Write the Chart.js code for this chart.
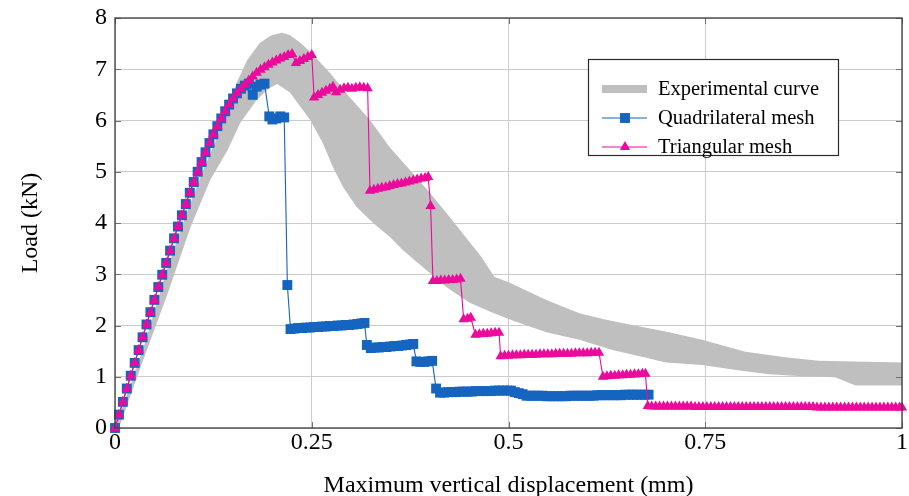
<!DOCTYPE html>
<html>
<head>
<meta charset="utf-8">
<title>Load vs displacement</title>
<script src="https://cdn.jsdelivr.net/npm/chart.js@4.4.1/dist/chart.umd.min.js"></script>
<style>
  html, body { margin: 0; padding: 0; background: #fff; }
  #chart-carga { display: block; }
</style>
</head>
<body>
<canvas id="chart-carga" width="909" height="496"></canvas>
<script>
// ---- data ----
const xTicks = [0, 0.25, 0.5, 0.75, 1];
const xTickLabels = ['0', '0.25', '0.5', '0.75', '1'];
const yTicks = [0, 1, 2, 3, 4, 5, 6, 7, 8];
const yTickLabels = ['0', '1', '2', '3', '4', '5', '6', '7', '8'];

// experimental band, upper and lower edge
const bandUpperX = [0, 0.02, 0.04, 0.064, 0.09, 0.11, 0.125, 0.138, 0.155, 0.168, 0.184, 0.198, 0.212, 0.222,
  0.235, 0.248, 0.273, 0.298, 0.324, 0.349, 0.375, 0.40, 0.425, 0.45, 0.465, 0.482, 0.501, 0.548, 0.59,
  0.624, 0.657, 0.704, 0.746, 0.801, 0.852, 0.894, 1.0];
const bandUpperY = [0, 0.85, 1.75, 3.0, 4.15, 4.95, 5.5, 6.0, 6.75, 7.18, 7.51, 7.66, 7.71, 7.67,
  7.52, 7.34, 6.93, 6.46, 6.01, 5.48, 5.03, 4.59, 4.12, 3.64, 3.35, 2.95, 2.84, 2.50, 2.24,
  2.11, 2.01, 1.87, 1.72, 1.49, 1.38, 1.31, 1.28];
const bandLowerX = [0.005, 0.036, 0.067, 0.096, 0.121, 0.143, 0.159, 0.18, 0.195, 0.206, 0.222, 0.248, 0.264,
  0.277, 0.29, 0.307, 0.328, 0.349, 0.366, 0.391, 0.421, 0.45, 0.48, 0.505, 0.548, 0.59, 0.632, 0.675,
  0.70, 0.746, 0.789, 0.831, 0.873, 0.915, 0.941, 1.0];
const bandLowerY = [0, 1.33, 2.63, 3.92, 4.84, 5.42, 5.95, 6.4, 6.62, 6.71, 6.55, 6.01, 5.56,
  5.09, 4.7, 4.31, 4.0, 3.73, 3.47, 3.14, 2.75, 2.45, 2.25, 2.1, 1.87, 1.72, 1.52, 1.37,
  1.28, 1.23, 1.13, 1.05, 1.01, 0.99, 0.83, 0.83];

// quadrilateral mesh
const quadX = [
  0, 0.005, 0.010, 0.015, 0.020, 0.025, 0.030, 0.035, 0.040, 0.045,
  0.050, 0.055, 0.060, 0.065, 0.070, 0.075, 0.080, 0.085, 0.090, 0.095,
  0.100, 0.105, 0.110, 0.115, 0.120, 0.125, 0.130, 0.135, 0.140, 0.145,
  0.150, 0.155, 0.160, 0.165, 0.170, 0.175, 0.180, 0.185, 0.190,
  0.196, 0.200, 0.205, 0.210, 0.215,
  0.219,
  0.223, 0.228, 0.233, 0.238, 0.243, 0.248, 0.253, 0.258, 0.263, 0.268,
  0.273, 0.278, 0.283, 0.288, 0.293, 0.298, 0.303, 0.308, 0.313, 0.317,
  0.320, 0.325, 0.330, 0.335, 0.340, 0.345, 0.350, 0.355, 0.360, 0.365, 0.370, 0.375, 0.379,
  0.383, 0.388, 0.393, 0.398, 0.403,
  0.408,
  0.413, 0.418, 0.423, 0.428, 0.433, 0.438, 0.443, 0.448, 0.453, 0.458,
  0.463, 0.468, 0.473, 0.478, 0.483, 0.488, 0.493, 0.498, 0.503,
  0.508, 0.513, 0.518,
  0.523, 0.528, 0.533, 0.538, 0.543, 0.548, 0.553, 0.558, 0.563, 0.568,
  0.573, 0.578, 0.583, 0.588, 0.593, 0.598, 0.603, 0.608, 0.613, 0.618,
  0.623, 0.628, 0.633, 0.638, 0.643, 0.648, 0.653, 0.658, 0.663, 0.668, 0.673, 0.678
];
const quadY = [
  0, 0.26, 0.51, 0.77, 1.02, 1.27, 1.52, 1.77, 2.02, 2.26,
  2.50, 2.75, 2.99, 3.22, 3.46, 3.70, 3.93, 4.15, 4.37, 4.59,
  4.80, 5.00, 5.19, 5.38, 5.56, 5.73, 5.89, 6.04, 6.18, 6.31,
  6.43, 6.53, 6.62, 6.68, 6.72, 6.50, 6.66, 6.70, 6.72,
  6.08, 6.02, 6.04, 6.08, 6.06,
  2.79,
  1.93, 1.94, 1.95, 1.95, 1.96, 1.96, 1.97, 1.97, 1.98, 1.98,
  1.99, 1.99, 2.00, 2.00, 2.01, 2.01, 2.02, 2.03, 2.04, 2.05,
  1.62, 1.56, 1.57, 1.57, 1.58, 1.58, 1.59, 1.60, 1.60, 1.61, 1.62, 1.63, 1.64,
  1.30, 1.29, 1.29, 1.30, 1.31,
  0.77,
  0.69, 0.69, 0.70, 0.70, 0.70, 0.71, 0.71, 0.71, 0.71, 0.72,
  0.72, 0.72, 0.72, 0.72, 0.73, 0.73, 0.73, 0.73, 0.73,
  0.70, 0.68, 0.66,
  0.63, 0.63, 0.63, 0.63, 0.63, 0.62, 0.62, 0.62, 0.62, 0.62,
  0.62, 0.63, 0.63, 0.63, 0.63, 0.63, 0.63, 0.63, 0.64, 0.64,
  0.64, 0.64, 0.64, 0.64, 0.64, 0.65, 0.65, 0.65, 0.65, 0.65, 0.65, 0.65
];

// triangular mesh
const triX = [
  0, 0.005, 0.010, 0.015, 0.020, 0.025, 0.030, 0.035, 0.040, 0.045,
  0.050, 0.055, 0.060, 0.065, 0.070, 0.075, 0.080, 0.085, 0.090, 0.095,
  0.100, 0.105, 0.110, 0.115, 0.120, 0.125, 0.130, 0.135, 0.140, 0.145,
  0.150, 0.155,
  0.160, 0.165, 0.170, 0.175, 0.180, 0.185, 0.190, 0.195, 0.200, 0.205, 0.210, 0.215, 0.220, 0.225,
  0.230, 0.235, 0.240, 0.245, 0.250,
  0.253,
  0.258, 0.263, 0.268, 0.273, 0.277, 0.281, 0.286, 0.291, 0.296, 0.301, 0.306, 0.311, 0.316, 0.321,
  0.324,
  0.329, 0.334, 0.339, 0.344, 0.349, 0.354, 0.359, 0.364, 0.369, 0.374, 0.379, 0.384, 0.389, 0.394, 0.398,
  0.401,
  0.404, 0.409, 0.414, 0.419, 0.424, 0.429, 0.434, 0.439,
  0.443, 0.448, 0.452,
  0.458, 0.463, 0.468, 0.473, 0.478, 0.483, 0.488,
  0.490,
  0.495, 0.500, 0.505, 0.510, 0.515, 0.520, 0.525, 0.530, 0.535, 0.540,
  0.545, 0.550, 0.555, 0.560, 0.565, 0.570, 0.575, 0.580, 0.585, 0.590,
  0.595, 0.600, 0.605, 0.610, 0.615,
  0.620,
  0.625, 0.630, 0.635, 0.640, 0.645, 0.650, 0.655, 0.660, 0.665, 0.670, 0.674,
  0.677,
  0.682, 0.687, 0.692, 0.697, 0.702, 0.707, 0.712, 0.717, 0.722, 0.727,
  0.732, 0.737, 0.742, 0.747, 0.752, 0.757, 0.762, 0.767, 0.772, 0.777,
  0.782, 0.787, 0.792, 0.797, 0.802, 0.807, 0.812, 0.817, 0.822, 0.827,
  0.832, 0.837, 0.842, 0.847, 0.852, 0.857, 0.862, 0.867, 0.872, 0.877,
  0.882, 0.887, 0.892, 0.897, 0.902, 0.907, 0.912, 0.917, 0.922, 0.927,
  0.932, 0.937, 0.942, 0.947, 0.952, 0.957, 0.962, 0.967, 0.972, 0.977,
  0.982, 0.987, 0.992, 0.997, 1.0
];
const triY = [
  0, 0.26, 0.51, 0.77, 1.02, 1.27, 1.52, 1.77, 2.02, 2.26,
  2.50, 2.75, 2.99, 3.22, 3.46, 3.70, 3.93, 4.15, 4.37, 4.59,
  4.80, 5.00, 5.19, 5.38, 5.56, 5.73, 5.89, 6.04, 6.18, 6.31,
  6.43, 6.53,
  6.62, 6.70, 6.78, 6.86, 6.93, 6.99, 7.04, 7.09, 7.13, 7.17, 7.21, 7.24, 7.28, 7.30,
  7.12, 7.16, 7.20, 7.24, 7.28,
  6.45,
  6.50, 6.54, 6.58, 6.62, 6.66, 6.55, 6.60, 6.63, 6.64, 6.62, 6.64, 6.65, 6.64, 6.63,
  4.63,
  4.65, 4.67, 4.69, 4.70, 4.72, 4.74, 4.76, 4.77, 4.79, 4.81, 4.83, 4.85, 4.87, 4.88, 4.90,
  4.33,
  2.87, 2.87, 2.88, 2.88, 2.89, 2.89, 2.90, 2.91,
  2.12, 2.13, 2.15,
  1.82, 1.83, 1.84, 1.84, 1.85, 1.86, 1.86,
  1.40,
  1.41, 1.41, 1.42, 1.42, 1.42, 1.43, 1.43, 1.43, 1.43, 1.44,
  1.44, 1.44, 1.44, 1.45, 1.45, 1.45, 1.45, 1.45, 1.46, 1.46,
  1.46, 1.46, 1.47, 1.47, 1.47,
  1.00,
  1.01, 1.02, 1.02, 1.03, 1.03, 1.04, 1.04, 1.05, 1.05, 1.06, 1.06,
  0.43,
  0.42, 0.42, 0.42, 0.42, 0.42, 0.42, 0.42, 0.42, 0.42, 0.42,
  0.42, 0.41, 0.41, 0.41, 0.41, 0.41, 0.41, 0.41, 0.41, 0.41,
  0.41, 0.41, 0.41, 0.41, 0.41, 0.41, 0.41, 0.41, 0.41, 0.41,
  0.41, 0.41, 0.41, 0.41, 0.41, 0.41, 0.41, 0.41, 0.41, 0.41,
  0.41, 0.41, 0.40, 0.40, 0.40, 0.40, 0.40, 0.40, 0.40, 0.40,
  0.40, 0.40, 0.40, 0.40, 0.40, 0.40, 0.40, 0.40, 0.40, 0.40,
  0.40, 0.40, 0.40, 0.40, 0.40
];

const xTitle = 'Maximum vertical displacement (mm)';
const yTitle = 'Load (kN)';
const seriesNames = ['Experimental curve', 'Quadrilateral mesh', 'Triangular mesh'];

// ---- styles ----
const serif = '"Liberation Serif", "Times New Roman", serif';
const cinza = '#bfbfbf';
const azul = '#1565c0';
const rosa = '#ec0a9c';

const toPoints = (xs, ys) => xs.map((x, i) => ({ x: x, y: ys[i] }));

// closed outline of the band: upper edge forward, lower edge backwards
const bandOutline = toPoints(bandUpperX, bandUpperY)
  .concat(toPoints(bandLowerX, bandLowerY).reverse());

// pgfplots style box: frame + inward ticks on all four sides
const moldura = {
  id: 'moldura',
  afterDatasetsDraw(chart) {
    const { ctx, chartArea: a, scales: { x, y } } = chart;
    ctx.save();
    ctx.strokeStyle = '#707070';
    ctx.lineWidth = 1;
    ctx.beginPath();
    xTicks.forEach(v => {
      const px = Math.round(x.getPixelForValue(v)) + 0.5;
      ctx.moveTo(px, a.bottom); ctx.lineTo(px, a.bottom - 6);
      ctx.moveTo(px, a.top); ctx.lineTo(px, a.top + 6);
    });
    yTicks.forEach(v => {
      const py = Math.round(y.getPixelForValue(v)) + 0.5;
      ctx.moveTo(a.left, py); ctx.lineTo(a.left + 6, py);
      ctx.moveTo(a.right, py); ctx.lineTo(a.right - 6, py);
    });
    ctx.stroke();
    ctx.strokeStyle = '#3c3c3c';
    ctx.lineWidth = 1.3;
    ctx.strokeRect(a.left, a.top, a.right - a.left, a.bottom - a.top);
    ctx.restore();
  }
};

// legend box drawn by hand (line + marker swatches)
const legenda = {
  id: 'legenda',
  afterDraw(chart) {
    const ctx = chart.ctx;
    const box = { left: 588.5, top: 59.5, width: 250, height: 96 };
    const rows = [89, 118, 147];
    ctx.save();
    ctx.fillStyle = '#fff';
    ctx.fillRect(box.left, box.top, box.width, box.height);
    ctx.strokeStyle = '#2b2b2b';
    ctx.lineWidth = 1.2;
    ctx.strokeRect(box.left, box.top, box.width, box.height);

    // experimental: thick grey bar
    ctx.fillStyle = cinza;
    ctx.fillRect(602, rows[0] - 4, 45, 8);

    // meshes: thin line with marker in the middle
    const swatch = (row, color, style, radius) => {
      ctx.strokeStyle = color;
      ctx.lineWidth = 1.2;
      ctx.beginPath();
      ctx.moveTo(602, row); ctx.lineTo(647, row);
      ctx.stroke();
      ctx.fillStyle = color;
      Chart.helpers.drawPoint(ctx, { pointStyle: style, radius: radius, rotation: 0, borderWidth: 0 }, 625, row);
    };
    swatch(rows[1], azul, 'rect', 7);
    swatch(rows[2], rosa, 'triangle', 6);

    ctx.fillStyle = '#000';
    ctx.font = '20.5px ' + serif;
    ctx.textBaseline = 'middle';
    ctx.textAlign = 'left';
    seriesNames.forEach((name, i) => ctx.fillText(name, 658, rows[i] + 1));
    ctx.restore();
  }
};

const fonte = { family: serif, size: 24, lineHeight: 1 };

const renderChartCarga = () => {
  const ctx = document.getElementById('chart-carga').getContext('2d');
  new Chart(ctx, {
    type: 'line',
    data: {
      datasets: [
        {
          label: seriesNames[2],
          data: toPoints(triX, triY),
          borderColor: rosa,
          backgroundColor: rosa,
          borderWidth: 1.1,
          pointStyle: 'triangle',
          pointRadius: 6,
          pointBorderWidth: 0,
          pointBackgroundColor: rosa,
          tension: 0,
          fill: false,
          clip: false,
          order: 1
        },
        {
          label: seriesNames[1],
          data: toPoints(quadX, quadY),
          borderColor: azul,
          backgroundColor: azul,
          borderWidth: 1.1,
          pointStyle: 'rect',
          pointRadius: 7,
          pointBorderWidth: 0,
          pointBackgroundColor: azul,
          tension: 0,
          fill: false,
          clip: false,
          order: 2
        },
        {
          label: seriesNames[0],
          data: bandOutline,
          borderColor: 'rgba(0,0,0,0)',
          borderWidth: 0,
          backgroundColor: cinza,
          pointRadius: 0,
          tension: 0,
          fill: 'shape',
          order: 3
        }
      ]
    },
    options: {
      responsive: false,
      animation: false,
      layout: { padding: { top: 18, right: 4, left: 0, bottom: 0 } },
      plugins: {
        legend: { display: false },
        tooltip: { enabled: false }
      },
      scales: {
        x: {
          type: 'linear',
          min: 0,
          max: 1,
          afterBuildTicks: s => { s.ticks = xTicks.map(v => ({ value: v })); },
          afterFit: s => { s.height = 68; s.paddingLeft = 0; s.paddingRight = 0; },
          grid: { color: '#cccccc', lineWidth: 1, drawTicks: false },
          border: { display: false },
          ticks: {
            padding: 3,
            color: '#000',
            font: fonte,
            maxRotation: 0,
            autoSkip: false,
            callback: (v, i) => xTickLabels[i]
          },
          title: { display: true, text: xTitle, color: '#000', font: fonte, padding: { top: 0, bottom: -2 } }
        },
        y: {
          type: 'linear',
          min: 0,
          max: 8,
          afterBuildTicks: s => { s.ticks = yTicks.map(v => ({ value: v })); },
          afterFit: s => { s.width = 115; s.paddingTop = 0; s.paddingBottom = 0; },
          grid: { color: '#cccccc', lineWidth: 1, drawTicks: false },
          border: { display: false },
          ticks: {
            padding: 8,
            color: '#000',
            font: fonte,
            autoSkip: false,
            callback: (v, i) => yTickLabels[i]
          },
          title: { display: true, text: yTitle, color: '#000', font: fonte, padding: { top: 19, bottom: 0 } }
        }
      }
    },
    plugins: [moldura, legenda]
  });
}

renderChartCarga();
</script>
</body>
</html>
